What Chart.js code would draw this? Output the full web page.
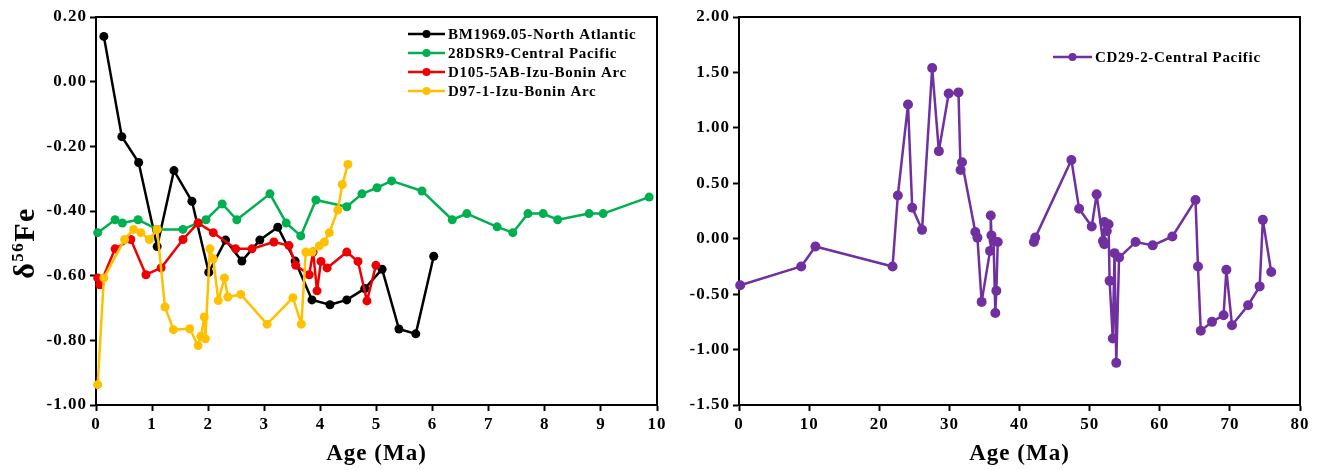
<!DOCTYPE html>
<html>
<head>
<meta charset="utf-8">
<script src="https://cdn.jsdelivr.net/npm/chart.js@4.4.0/dist/chart.umd.min.js"></script>
<style>
  html, body { margin: 0; padding: 0; background: #fff; }
  #wrap { position: relative; width: 1322px; height: 470px; }
  canvas { position: absolute; top: 0; }
</style>
</head>
<body>
<div id="wrap">
  <canvas id="leftChart" width="670" height="470" style="left:0"></canvas>
  <canvas id="rightChart" width="652" height="470" style="left:670px"></canvas>
</div>
<script>
const FONT = "'Liberation Serif', 'Times New Roman', serif";

// left panel: four records, age (Ma) vs d56Fe
const bmAge = [0.14, 0.46, 0.76, 1.09, 1.39, 1.71, 2.01, 2.31, 2.60, 2.92, 3.24, 3.55, 3.85, 4.17, 4.47, 4.79, 5.10, 5.40, 5.70, 6.02];
const bmFe  = [0.14, -0.17, -0.25, -0.51, -0.275, -0.37, -0.59, -0.49, -0.555, -0.49, -0.45, -0.555, -0.675, -0.69, -0.675, -0.64, -0.58, -0.765, -0.78, -0.54];

const dsrAge = [0.03, 0.34, 0.47, 0.75, 1.09, 1.55, 1.82, 1.96, 2.25, 2.51, 3.10, 3.39, 3.65, 3.92, 4.47, 4.74, 5.01, 5.27, 5.81, 6.35, 6.61, 7.15, 7.43, 7.70, 7.97, 8.23, 8.79, 9.04, 9.86];
const dsrFe  = [-0.467, -0.427, -0.437, -0.427, -0.457, -0.457, -0.437, -0.427, -0.378, -0.427, -0.347, -0.437, -0.477, -0.366, -0.387, -0.347, -0.328, -0.307, -0.338, -0.427, -0.408, -0.449, -0.467, -0.408, -0.408, -0.427, -0.408, -0.408, -0.357];

const d105Age = [0.03, 0.07, 0.34, 0.62, 0.89, 1.16, 1.55, 1.82, 2.09, 2.49, 2.78, 3.17, 3.44, 3.56, 3.80, 3.87, 3.94, 4.01, 4.12, 4.47, 4.67, 4.83, 4.99];
const d105Fe  = [-0.607, -0.628, -0.517, -0.488, -0.597, -0.576, -0.488, -0.437, -0.467, -0.517, -0.517, -0.496, -0.507, -0.568, -0.597, -0.527, -0.647, -0.556, -0.576, -0.527, -0.556, -0.678, -0.568];

const d97Age = [0.03, 0.14, 0.51, 0.67, 0.80, 0.95, 1.09, 1.23, 1.38, 1.67, 1.82, 1.87, 1.93, 1.95, 2.03, 2.09, 2.18, 2.29, 2.35, 2.58, 3.05, 3.51, 3.66, 3.74, 3.85, 3.98, 4.07, 4.16, 4.31, 4.39, 4.49];
const d97Fe  = [-0.937, -0.607, -0.488, -0.457, -0.467, -0.488, -0.457, -0.697, -0.767, -0.764, -0.816, -0.787, -0.728, -0.795, -0.517, -0.548, -0.677, -0.607, -0.666, -0.658, -0.75, -0.668, -0.75, -0.527, -0.527, -0.508, -0.496, -0.467, -0.397, -0.318, -0.256];

// right panel: CD29-2 (null = break in the record)
const cdAge = [0.17, 8.87, 10.9, 21.9, 22.65, 24.1, 24.7, 26.1, 27.55, 28.5, 29.9, 31.3, 31.6, 31.8, 33.7, 34.0, 34.6, 35.8, 35.9, 36.0, 36.3, 36.55, 36.7, 36.9,
               39.5,
               42.05, 42.25, 47.4, 48.5, 50.3, 51.0, 51.9, 52.1, 52.1, 52.45, 52.7, 52.85, 53.3, 53.55, 53.8, 54.2, 56.55, 59.0, 61.8, 65.1, 65.45, 65.85, 67.45, 69.1, 69.5, 70.3, 72.6, 74.25, 74.7, 75.9];
const cdFe  = [-0.42, -0.25, -0.07, -0.25, 0.39, 1.21, 0.28, 0.08, 1.54, 0.79, 1.31, 1.32, 0.62, 0.69, 0.06, 0.01, -0.57, -0.11, 0.21, 0.03, -0.02, -0.67, -0.47, -0.03,
               null,
               -0.03, 0.01, 0.71, 0.27, 0.11, 0.40, -0.02, -0.05, 0.15, 0.07, 0.13, -0.38, -0.90, -0.13, -1.12, -0.17, -0.03, -0.06, 0.02, 0.35, -0.25, -0.83, -0.75, -0.69, -0.28, -0.78, -0.60, -0.43, 0.17, -0.30];

// tick labels
const leftXTicks  = [0, 1, 2, 3, 4, 5, 6, 7, 8, 9, 10];
const leftYTicks  = [-1.0, -0.8, -0.6, -0.4, -0.2, 0.0, 0.2];
const rightXTicks = [0, 10, 20, 30, 40, 50, 60, 70, 80];
const rightYTicks = [-1.5, -1.0, -0.5, 0.0, 0.5, 1.0, 1.5, 2.0];

const toPoints = (xs, ys) => xs.map((x, i) => ({ x: x, y: ys[i] }));

function series(label, xs, ys, color, order, radius) {
  return {
    label: label,
    data: toPoints(xs, ys),
    showLine: true,
    borderColor: color,
    backgroundColor: color,
    borderWidth: 2.5,
    borderJoinStyle: 'round',
    pointRadius: radius,
    pointBorderWidth: 0,
    pointHoverRadius: radius,
    clip: false,
    order: order
  };
}

function buildScales(xTicks, yTicks, yAxisWidth) {
  return {
    x: {
      type: 'linear',
      min: xTicks[0],
      max: xTicks[xTicks.length - 1],
      afterBuildTicks: s => { s.ticks = xTicks.map(v => ({ value: v })); },
      ticks: { color: '#000', font: { size: 17, weight: 'bold' }, padding: 3, maxRotation: 0, autoSkip: false, callback: v => String(v) },
      grid: { drawOnChartArea: false, tickLength: 6, tickWidth: 2, tickColor: '#000' },
      border: { color: '#000', width: 2 },
      title: { display: true, text: 'Age (Ma)', color: '#000', font: { size: 23, weight: 'bold' }, padding: { top: 0, bottom: 2 } },
      afterFit: s => { s.height = 65; }
    },
    y: {
      type: 'linear',
      min: yTicks[0],
      max: yTicks[yTicks.length - 1],
      afterBuildTicks: s => { s.ticks = yTicks.map(v => ({ value: v })); },
      ticks: { color: '#000', font: { size: 17, weight: 'bold' }, padding: 3, autoSkip: false, callback: v => v.toFixed(2) },
      grid: { drawOnChartArea: false, tickLength: 6, tickWidth: 2, tickColor: '#000' },
      border: { color: '#000', width: 2 },
      afterFit: s => { s.width = yAxisWidth; }
    }
  };
}

// box round the plot area + wider letter spacing like the original
const frameBox = {
  id: 'frameBox',
  beforeDraw(chart) { chart.ctx.letterSpacing = '1px'; },
  beforeDatasetsDraw(chart) {
    const { ctx, chartArea: a } = chart;
    ctx.save();
    ctx.strokeStyle = '#000';
    ctx.lineWidth = 2;
    ctx.strokeRect(a.left, a.top, a.right - a.left, a.bottom - a.top);
    ctx.restore();
  }
};

// legend with a line + dot sample
const lineLegend = {
  id: 'lineLegend',
  afterDraw(chart, args, opts) {
    const { ctx, chartArea } = chart;
    ctx.save();
    ctx.font = 'bold 15px ' + FONT;
    ctx.letterSpacing = '0.7px';
    ctx.textBaseline = 'middle';
    chart.data.datasets.forEach((ds, i) => {
      const x = chartArea.left + opts.dx;
      const y = chartArea.top + opts.dy + i * opts.rowGap;
      ctx.strokeStyle = ds.borderColor;
      ctx.lineWidth = 2.5;
      ctx.beginPath();
      ctx.moveTo(x, y);
      ctx.lineTo(x + opts.lineLen, y);
      ctx.stroke();
      ctx.fillStyle = ds.backgroundColor;
      ctx.beginPath();
      ctx.arc(x + opts.lineLen / 2, y, 4, 0, Math.PI * 2);
      ctx.fill();
      ctx.fillStyle = '#000';
      ctx.fillText(ds.label, x + opts.lineLen + 3, y + 1);
    });
    ctx.restore();
  }
};

// y title with superscript 56
const yTitle = {
  id: 'yTitle',
  afterDraw(chart, args, opts) {
    if (!opts.show) return;
    const ctx = chart.ctx;
    const big = 'bold 30px ' + FONT;
    const small = 'bold 17px ' + FONT;
    ctx.save();
    ctx.letterSpacing = '1.5px';
    ctx.fillStyle = '#000';
    ctx.textBaseline = 'alphabetic';
    ctx.font = big;
    const w1 = ctx.measureText('δ').width;
    const w3 = ctx.measureText('Fe').width;
    ctx.font = small;
    const w2 = ctx.measureText('56').width;
    const total = w1 + w2 + w3;
    ctx.translate(opts.x, opts.cy);
    ctx.rotate(-Math.PI / 2);
    let p = -total / 2;
    ctx.font = big;
    ctx.fillText('δ', p, 0);
    p += w1;
    ctx.font = small;
    ctx.fillText('56', p, -11);
    p += w2;
    ctx.font = big;
    ctx.fillText('Fe', p, 0);
    ctx.restore();
  }
};

Chart.defaults.font.family = FONT;
Chart.defaults.color = '#000';

new Chart(document.getElementById('leftChart'), {
  type: 'scatter',
  data: {
    datasets: [
      series('BM1969.05-North Atlantic', bmAge, bmFe, '#000000', 4, 4.5),
      series('28DSR9-Central Pacific', dsrAge, dsrFe, '#00B050', 3, 4.5),
      series('D105-5AB-Izu-Bonin Arc', d105Age, d105Fe, '#EE0000', 2, 4.5),
      series('D97-1-Izu-Bonin Arc', d97Age, d97Fe, '#FFC000', 1, 4.5)
    ]
  },
  options: {
    responsive: false,
    animation: false,
    layout: { padding: { top: 17, right: 13, bottom: 0, left: 0 } },
    scales: buildScales(leftXTicks, leftYTicks, 96),
    plugins: {
      legend: { display: false },
      tooltip: { enabled: false },
      lineLegend: { dx: 312, dy: 17, rowGap: 19, lineLen: 37 },
      yTitle: { show: true, x: 34, cy: 243 }
    }
  },
  plugins: [frameBox, lineLegend, yTitle]
});

new Chart(document.getElementById('rightChart'), {
  type: 'scatter',
  data: {
    datasets: [
      series('CD29-2-Central Pacific', cdAge, cdFe, '#7030A0', 1, 5)
    ]
  },
  options: {
    responsive: false,
    animation: false,
    layout: { padding: { top: 17, right: 22, bottom: 0, left: 0 } },
    scales: buildScales(rightXTicks, rightYTicks, 69),
    plugins: {
      legend: { display: false },
      tooltip: { enabled: false },
      lineLegend: { dx: 314, dy: 40, rowGap: 19, lineLen: 39 },
      yTitle: { show: false }
    }
  },
  plugins: [frameBox, lineLegend, yTitle]
});
</script>
</body>
</html>
